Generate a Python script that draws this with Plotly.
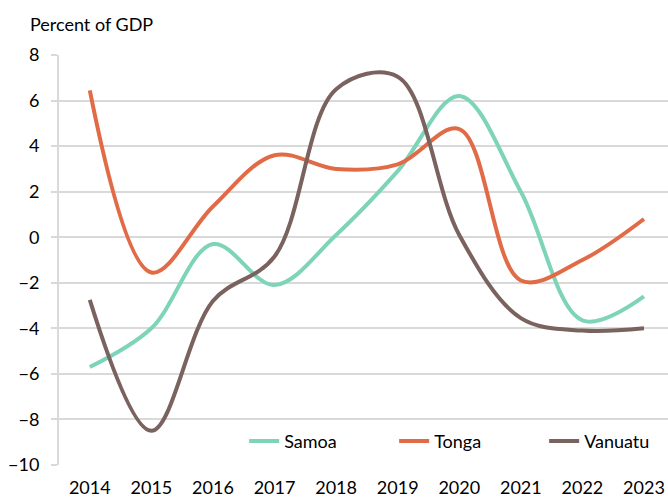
import plotly.graph_objects as go

years = [2014, 2015, 2016, 2017, 2018, 2019, 2020, 2021, 2022, 2023]
samoa = [-5.7, -4.0, -0.3, -2.1, 0.1, 2.9, 6.2, 2.0, -3.65, -2.6]
tonga = [6.45, -1.55, 1.35, 3.6, 3.0, 3.2, 4.75, -1.9, -1.0, 0.8]
vanuatu = [-2.75, -8.5, -2.8, -0.85, 6.5, 7.05, 0.1, -3.55, -4.1, -4.0]

y_ticks = [-10, -8, -6, -4, -2, 0, 2, 4, 6, 8]
boundaries = [y + 0.5 for y in years[:-1]]

FONT = "Lato"
GRID = "#d9d9d9"

series = [("Samoa", samoa, "#7dd4b8"), ("Tonga", tonga, "#e26b47"), ("Vanuatu", vanuatu, "#7a625e")]

fig = go.Figure()
for name, vals, col in series:
    fig.add_trace(go.Scatter(
        x=years, y=vals, name=name, mode="lines",
        line=dict(color=col, width=4, shape="spline", smoothing=1.0),
    ))

y_lo, y_hi = -10, 8
x_lo, x_hi = 2013.5, 2023.39

fig.update_layout(
    width=668, height=500,
    margin=dict(l=59, r=0, t=55, b=35, autoexpand=False),
    paper_bgcolor="white", plot_bgcolor="white",
    font=dict(family=FONT, size=18, color="#000000"),
    showlegend=True,
    legend=dict(orientation="h", x=0.304, y=0.058, xanchor="left", yanchor="middle",
                font=dict(family=FONT, size=18), bgcolor="rgba(0,0,0,0)",
                entrywidth=105, entrywidthmode="pixels", itemwidth=30),
    xaxis=dict(range=[x_lo, x_hi], tickmode="array", tickvals=years,
               ticktext=[str(y) for y in years], showgrid=False, zeroline=False,
               showline=False, ticks="", ticklabelstandoff=10,
               tickfont=dict(family=FONT, size=18)),
    xaxis2=dict(range=[x_lo, x_hi], overlaying="x", anchor="free",
                position=(0 - y_lo) / (y_hi - y_lo), side="bottom",
                tickmode="array", tickvals=boundaries, ticks="outside",
                ticklen=5, tickwidth=2, tickcolor=GRID, showticklabels=False,
                showgrid=False, zeroline=False, showline=False),
    yaxis=dict(range=[y_lo, y_hi], tickmode="array", tickvals=y_ticks,
               showgrid=True, gridcolor=GRID, gridwidth=2, zeroline=False,
               showline=True, linecolor=GRID, linewidth=2,
               ticks="outside", ticklen=6, tickwidth=2, tickcolor=GRID,
               ticklabelstandoff=8, tickfont=dict(family=FONT, size=18)),
    annotations=[dict(text="Percent of GDP", xref="paper", yref="paper",
                      x=-0.051, y=1.076, xanchor="left", yanchor="middle",
                      showarrow=False, font=dict(family=FONT, size=18))],
)

fig.write_html("out.html")
